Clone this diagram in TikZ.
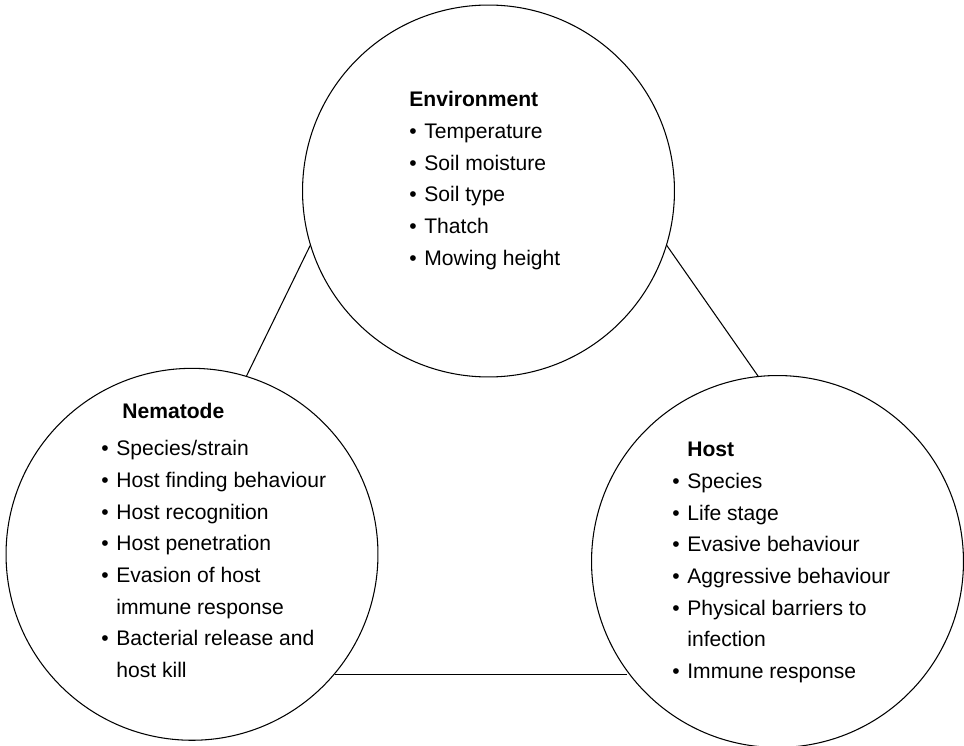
\documentclass[tikz,border=0pt]{standalone}
\usepackage{fontspec}
\setmainfont{Liberation Sans}

\begin{document}
\begin{tikzpicture}[x=0.02cm, y=-0.02cm,
        factor/.style={draw, circle, line width=0.6pt, minimum size=7.44cm, inner sep=0},
        factorlist/.style={anchor=base west, inner sep=0, font=\fontsize{12}{18}\selectfont}]
        \useasboundingbox (0,0) rectangle (964,746);
        \node[factor] (env) at (488.5,191) {};
        \node[factor] (nem) at (192,554.3) {};
        \node[factor] (host) at (777.5,561.5) {};
        \draw[line width=0.6pt] (env.197.4) -- (nem.73.5);
        \draw[line width=0.6pt] (env.343) -- (host.96.9);
        \draw[line width=0.6pt] (nem.320.6) -- (nem.320.6 -| host.216.8);
        \node[factorlist] (envlist) at (409,107) {\begin{tabular}[t]{@{}p{0.3cm}@{}l@{}}
            \multicolumn{2}{@{}l@{}}{\textbf{Environment}}\\
            \textbullet & Temperature\\
            \textbullet & Soil moisture\\
            \textbullet & Soil type\\
            \textbullet & Thatch\\
            \textbullet & Mowing height
        \end{tabular}};
        \node[factorlist] (nemlist) at (101,419) {\begin{tabular}[t]{@{}p{0.3cm}@{}l@{}}
            \multicolumn{2}{@{}l@{}}{\hspace{0.42cm}\textbf{Nematode}}\\[3pt]
            \textbullet & Species/strain\\
            \textbullet & Host finding behaviour\\
            \textbullet & Host recognition\\
            \textbullet & Host penetration\\
            \textbullet & Evasion of host\\
                        & immune response\\
            \textbullet & Bacterial release and\\
                        & host kill
        \end{tabular}};
        \node[factorlist] (hostlist) at (672,457) {\begin{tabular}[t]{@{}p{0.3cm}@{}l@{}}
                        & \textbf{Host}\\
            \textbullet & Species\\
            \textbullet & Life stage\\
            \textbullet & Evasive behaviour\\
            \textbullet & Aggressive behaviour\\
            \textbullet & Physical barriers to\\
                        & infection\\
            \textbullet & Immune response
        \end{tabular}};
    \end{tikzpicture}
\end{document}
